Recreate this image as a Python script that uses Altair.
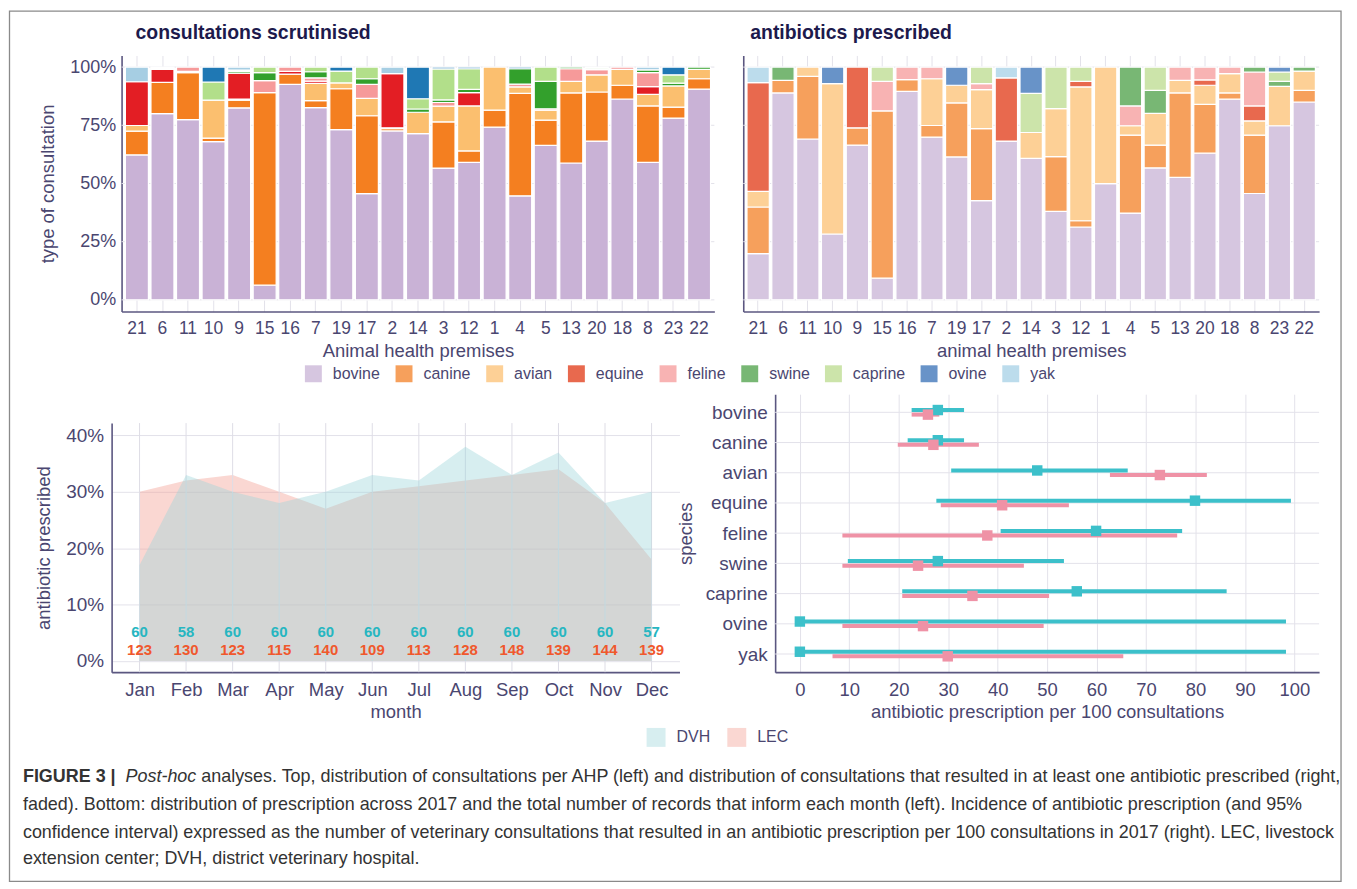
import altair as alt
import pandas as pd

FONT = "Liberation Sans"
TXT = "#4a4670"
AXIS = "#5b5780"
GRID = "#e3e2ea"
TITLE_C = "#1d1a4c"

premises = ["21", "6", "11", "10", "9", "15", "16", "7", "19", "17", "2", "14",
            "3", "12", "1", "4", "5", "13", "20", "18", "8", "23", "22"]
species = ["bovine", "canine", "avian", "equine", "feline", "swine", "caprine", "ovine", "yak"]

# consultations scrutinised (% of consultations per premises)
cons_bovine = [62.3, 80, 77.4, 68, 82.5, 6.3, 92.6, 82.6, 73.1, 45.6, 72.6, 71.4, 56.6, 59.1, 74.2, 44.7, 66.4, 58.8, 68.2, 86.3, 59.1, 78.1, 90.5]
cons_canine = [10.2, 13.4, 20.2, 1.5, 3.3, 82.7, 4.4, 3, 17.6, 33.5, 1, 0, 19.9, 4.9, 7.3, 44, 10.8, 30.1, 21.1, 5.9, 24.2, 4.7, 4.5]
cons_avian = [2.4, 0, 0.6, 16.3, 0.5, 0, 0, 7.4, 2.5, 7.5, 0.3, 9.2, 6.7, 19.3, 18.5, 2.8, 4.3, 5, 7.4, 6.8, 5, 9.1, 4]
cons_equine = [18.8, 5.6, 0, 0, 11.1, 0, 1.2, 1, 0, 0, 23.3, 0, 0, 5.7, 0, 0, 0, 0, 0, 0, 3.3, 0, 0]
cons_feline = [0, 0, 1.8, 0, 0, 5.2, 1.8, 1.4, 0, 6, 0, 0, 1.6, 0, 0, 1.2, 0.6, 5.4, 2.2, 1, 6, 0, 0]
cons_swine = [0, 0.6, 0, 0, 0.8, 3.4, 0, 2.6, 0, 2.4, 0, 1.4, 1.1, 1.4, 0, 6.6, 11.8, 0.7, 0.6, 0, 1.2, 1.2, 1]
cons_caprine = [0, 0.4, 0, 7.8, 0.5, 2.4, 0, 2, 5.1, 5, 0, 4.4, 13.3, 8.9, 0, 0, 6.1, 0, 0.5, 0, 0, 3.6, 0]
cons_ovine = [0, 0, 0, 6.4, 0, 0, 0, 0, 1.7, 0, 0, 13.6, 0.8, 0.7, 0, 0.7, 0, 0, 0, 0, 0, 3.3, 0]
cons_yak = [6.3, 0, 0, 0, 1.3, 0, 0, 0, 0, 0, 2.8, 0, 0, 0, 0, 0, 0, 0, 0, 0, 1.2, 0, 0]

# antibiotics prescribed (% of consultations with antibiotic)
abx_bovine = [19.9, 88.9, 69.1, 28.3, 66.5, 9.3, 89.6, 69.9, 61.4, 42.6, 68.2, 60.8, 38, 31.3, 49.9, 37.3, 56.7, 52.6, 63, 86.2, 45.7, 74.8, 85]
abx_canine = [20, 5.4, 26.9, 0, 7.4, 71.9, 5, 5, 23.2, 31, 0, 0, 23.5, 2.7, 0, 33.5, 9.8, 36.3, 21, 2.7, 25.1, 0, 5]
abx_avian = [6.7, 0, 4, 64.6, 0, 0, 0, 20.1, 7.6, 16.7, 0, 11.1, 20.7, 57.5, 50.1, 4, 13.6, 5.4, 8.2, 8.3, 6.1, 16.9, 8.3]
abx_equine = [46.7, 0, 0, 0, 26.1, 0, 0, 0, 0, 0, 27.2, 0, 0, 2.4, 0, 0, 0, 0, 2.3, 0, 6.4, 0, 0]
abx_feline = [0, 0, 0, 0, 0, 12.7, 5.4, 5, 0, 2.6, 0, 0, 0, 0, 0, 8.5, 0, 5.7, 5.5, 2.8, 14.6, 0, 0]
abx_swine = [0, 5.7, 0, 0, 0, 0, 0, 0, 0, 0, 0, 0, 0, 0, 0, 16.7, 9.9, 0, 0, 0, 2.1, 2.2, 1.7]
abx_caprine = [0, 0, 0, 0, 0, 6.1, 0, 0, 0, 7.1, 0, 16.8, 17.8, 6.1, 0, 0, 10, 0, 0, 0, 0, 4, 0]
abx_ovine = [0, 0, 0, 7.1, 0, 0, 0, 0, 7.8, 0, 0, 11.3, 0, 0, 0, 0, 0, 0, 0, 0, 0, 2.1, 0]
abx_yak = [6.7, 0, 0, 0, 0, 0, 0, 0, 0, 0, 4.6, 0, 0, 0, 0, 0, 0, 0, 0, 0, 0, 0, 0]

# monthly prescription
months = ["Jan", "Feb", "Mar", "Apr", "May", "Jun", "Jul", "Aug", "Sep", "Oct", "Nov", "Dec"]
dvh_pct = [17, 33, 30, 28, 30, 33, 32, 38, 33, 37, 28, 30]
lec_pct = [30, 32, 33, 30, 27, 30, 31, 32, 33, 34, 28, 18]
dvh_n = [60, 58, 60, 60, 60, 60, 60, 60, 60, 60, 60, 57]
lec_n = [123, 130, 123, 115, 140, 109, 113, 128, 148, 139, 144, 139]

# incidence per 100 consultations (95% CI)
dvh_est = [27.9, 27.9, 48, 79.9, 59.9, 27.9, 56, 0, 0]
dvh_lo = [22.6, 21.8, 30.6, 27.6, 40.6, 9.7, 20.7, 0, 0]
dvh_hi = [33.2, 33.2, 66.3, 99.3, 77.3, 53.4, 86.3, 98.3, 98.3]
lec_est = [25.9, 27, 72.8, 40.9, 37.9, 23.9, 34.9, 24.9, 29.9]
lec_lo = [22.6, 19.8, 62.7, 28.5, 8.6, 8.6, 20.7, 8.6, 6.6]
lec_hi = [28.2, 36.2, 82.3, 54.4, 76.3, 45.3, 50.4, 49.3, 65.4]

# tick values
pct_ticks = [0, 0.25, 0.5, 0.75, 1]
month_ticks = [0, 10, 20, 30, 40]

# palettes
cons_colors = ["#c9b2d6", "#f47f20", "#fbbf6f", "#e31e24", "#f69a9a", "#33a02c", "#b2df8a", "#1f78b4", "#a6cee3"]
abx_colors = ["#d6c6e0", "#f6a05c", "#fdd096", "#e8694e", "#f8b3b3", "#78b774", "#cce4aa", "#6893c8", "#bcdcec"]


def long_df(cols):
    rows = []
    for si, (sp, vals) in enumerate(zip(species, cols)):
        for p, v in zip(premises, vals):
            if v > 0:
                rows.append({"premise": p, "species": sp, "ord": si, "value": v})
    return pd.DataFrame(rows)


cons_df = long_df([cons_bovine, cons_canine, cons_avian, cons_equine, cons_feline,
                   cons_swine, cons_caprine, cons_ovine, cons_yak])
abx_df = long_df([abx_bovine, abx_canine, abx_avian, abx_equine, abx_feline,
                  abx_swine, abx_caprine, abx_ovine, abx_yak])
pct_grid_df = pd.DataFrame({"g": pct_ticks})

# grid cells: column 0 starts at the bottom-left panel's left edge; inner offsets via scale ranges
TL_OFF, TL_W = 10, 595      # top-left plot: 10 px in, 595 wide
TR_OFF, TR_W = 29, 578      # top-right plot inside column 1
BR_OFF, BR_W = 61, 546      # bottom-right plot inside column 1
COL1_W = 607
TOP_H = 257
BOT_H = 279
BL_TOP = 29                 # bottom-left plot starts 29 px below row top
BL_W = 570


def bar_panel(df, colors, off, w, cell_w, title, dx, xtitle, yaxis, ytitle, legend):
    xenc = alt.X("premise:N", sort=premises, title=xtitle,
                 scale=alt.Scale(paddingInner=0.1, paddingOuter=0.15, range=[off, off + w]),
                 axis=alt.Axis(labelAngle=0, ticks=False, grid=True, bandPosition=0.5,
                               labelPadding=8, titlePadding=5, labelFontSize=17.5,
                               titleFontSize=18.5))
    yscale = alt.Scale(domain=[-0.05, 1.05], nice=False)
    grid = alt.Chart(pct_grid_df).mark_rule(color=GRID, strokeWidth=1).encode(
        y=alt.Y("g:Q", scale=yscale, title=ytitle, axis=yaxis),
        x=alt.value(off), x2=alt.value(off + w))
    bars = alt.Chart(df).mark_bar(stroke="white", strokeWidth=1.2).encode(
        x=xenc,
        y=alt.Y("value:Q", stack="normalize", scale=yscale, title=ytitle, axis=yaxis),
        color=alt.Color("species:N", scale=alt.Scale(domain=species, range=colors), legend=legend),
        order=alt.Order("ord:Q", sort="ascending"),
    )
    return alt.layer(grid, bars).properties(
        width=cell_w, height=TOP_H,
        title=alt.Title(title, anchor="start", frame="group", dx=dx, fontSize=19.5,
                        fontWeight="bold", color=TITLE_C, font=FONT, offset=12))


yaxis_left = alt.Axis(values=pct_ticks, format=".0%", ticks=False, grid=False,
                      offset=-TL_OFF, labelPadding=6, titlePadding=12,
                      labelFontSize=18, titleFontSize=18.5)
yaxis_right = alt.Axis(values=pct_ticks, labels=False, ticks=False, grid=False, offset=-TR_OFF)

species_legend = alt.Legend(orient="none", legendX=-411, legendY=311, direction="horizontal",
                            columns=9, title=None, symbolType="square", symbolSize=289,
                            symbolStrokeWidth=0, symbolOpacity=1, labelFontSize=16,
                            columnPadding=15, labelOffset=11)

top_left = bar_panel(cons_df, cons_colors, TL_OFF, TL_W, TL_OFF + TL_W, "consultations scrutinised",
                     24, "Animal health premises", yaxis_left, "type of consultation", None)
top_right = bar_panel(abx_df, abx_colors, TR_OFF, TR_W, COL1_W, "antibiotics prescribed", 36,
                      "animal health premises", yaxis_right, "", species_legend)

# ---- bottom left: monthly areas
dvh_df = pd.DataFrame({"month": months, "pct": dvh_pct, "n": dvh_n, "group": "DVH"})
lec_df = pd.DataFrame({"month": months, "pct": lec_pct, "n": lec_n, "group": "LEC"})
month_df = pd.DataFrame({"month": months})

YT_BL = "antibiotic prescribed"
xm = alt.X("month:N", sort=months, title="month",
           scale=alt.Scale(type="point", padding=0.6),
           axis=alt.Axis(labelAngle=0, ticks=False, grid=False, labelPadding=8, titlePadding=4,
                         labelFontSize=18.5, titleFontSize=18.5))
ym_scale = alt.Scale(domain=[-2, 42.2], nice=False, range=[BOT_H, BL_TOP])
ym_axis = alt.Axis(values=month_ticks, labelExpr="datum.value + '%'", ticks=False,
                   grid=True, labelPadding=8, titlePadding=12, labelFontSize=19,
                   titleFontSize=18.5)
ym = alt.Y("pct:Q", title=YT_BL, scale=ym_scale, axis=ym_axis)
area_color = alt.Color("group:N", scale=alt.Scale(domain=["DVH", "LEC"], range=["#9bd4d9", "#f29b8e"]),
                       legend=alt.Legend(orient="none", legendX=537, legendY=335, direction="horizontal",
                                         title=None, symbolType="square", symbolSize=361,
                                         symbolOpacity=0.4, symbolStrokeWidth=0, labelFontSize=16,
                                         columnPadding=17, labelOffset=11))

# vertical month gridlines limited to the plot's own height
vgrid = alt.Chart(month_df).mark_rule(color="#dedde6", strokeWidth=1).encode(
    x=xm, y=alt.value(BL_TOP), y2=alt.value(BOT_H))
lec_area = alt.Chart(lec_df).mark_area(opacity=0.4).encode(x=xm, y=ym, y2=alt.datum(0), color=area_color)
dvh_area = alt.Chart(dvh_df).mark_area(opacity=0.4).encode(x=xm, y=ym, y2=alt.datum(0), color=area_color)
dvh_txt = alt.Chart(dvh_df).mark_text(fontWeight="bold", fontSize=15, font=FONT, color="#26b6c1").encode(
    x=xm, y=alt.YDatum(5.1, title=YT_BL), text="n:Q")
lec_txt = alt.Chart(lec_df).mark_text(fontWeight="bold", fontSize=15, font=FONT, color="#f0582c").encode(
    x=xm, y=alt.YDatum(1.9, title=YT_BL), text="n:Q")

bottom_left = alt.layer(lec_area, vgrid, dvh_area, dvh_txt, lec_txt).properties(width=BL_W, height=BOT_H)

# ---- bottom right: forest plot
f_dvh = pd.DataFrame({"species": species, "est": dvh_est, "lo": dvh_lo, "hi": dvh_hi})
f_lec = pd.DataFrame({"species": species, "est": lec_est, "lo": lec_lo, "hi": lec_hi})
sp_df = pd.DataFrame({"species": species})
XT = "antibiotic prescription per 100 consultations"
xaxis_f = alt.Axis(values=list(range(0, 101, 10)), ticks=False, grid=True, labelPadding=8,
                   titlePadding=4, labelFontSize=18.5, titleFontSize=18.5)
xs = alt.Scale(domain=[-5, 105], nice=False, range=[BR_OFF, BR_OFF + BR_W])
yf = alt.Y("species:N", sort=species, title="species",
           scale=alt.Scale(type="point", padding=0.6),
           axis=alt.Axis(ticks=False, grid=False, offset=-BR_OFF, labelPadding=8, titlePadding=10,
                         labelFontSize=19, titleFontSize=18.5))

DVH_C = "#3cc0ca"
LEC_C = "#ef92a6"
hgrid = alt.Chart(sp_df).mark_rule(color=GRID, strokeWidth=1).encode(
    y=yf, x=alt.XDatum(-5, title=XT, scale=xs, axis=xaxis_f), x2=alt.X2Datum(105))
r_dvh = alt.Chart(f_dvh).mark_rule(strokeWidth=4, yOffset=-2.3, color=DVH_C).encode(
    x=alt.X("lo:Q", title=XT, scale=xs, axis=xaxis_f), x2="hi:Q", y=yf)
r_lec = alt.Chart(f_lec).mark_rule(strokeWidth=4, yOffset=2.3, color=LEC_C).encode(
    x=alt.X("lo:Q", title=XT, scale=xs, axis=xaxis_f), x2="hi:Q", y=yf)
s_dvh = alt.Chart(f_dvh).mark_square(size=110, yOffset=-2.3, color=DVH_C, opacity=1).encode(
    x=alt.X("est:Q", title=XT, scale=xs, axis=xaxis_f), y=yf)
s_lec = alt.Chart(f_lec).mark_square(size=110, yOffset=2.3, color=LEC_C, opacity=1).encode(
    x=alt.X("est:Q", title=XT, scale=xs, axis=xaxis_f), y=yf)

bottom_right = alt.layer(hgrid, r_dvh, r_lec, s_dvh, s_lec).properties(width=COL1_W, height=BOT_H)

# ---- caption + frame (caption cell origin: x=111, y=755 on the page)
cap_base = alt.Chart(pd.DataFrame({"s": [0]}))
CAP = 18
CAP_C = "#333333"
line1 = ("analyses. Top, distribution of consultations per AHP (left) and distribution of "
         "consultations that resulted in at least one antibiotic prescribed (right,")
line2 = ("faded). Bottom: distribution of prescription across 2017 and the total number of records "
         "that inform each month (left). Incidence of antibiotic prescription (and 95%")
line3 = ("confidence interval) expressed as the number of veterinary consultations that resulted in "
         "an antibiotic prescription per 100 consultations in 2017 (right). LEC, livestock")
line4 = "extension center; DVH, district veterinary hospital."


def cap_text(t, x, y, weight="normal", style="normal"):
    return cap_base.mark_text(text=t, align="left", baseline="middle", font=FONT, fontSize=CAP,
                              fontWeight=weight, fontStyle=style, color=CAP_C).encode(
        x=alt.value(x), y=alt.value(y))


frame = cap_base.mark_rect(fillOpacity=0, stroke="#8a8a8a", strokeWidth=1.3).encode(
    x=alt.value(-102.5), x2=alt.value(1234), y=alt.value(-746.5), y2=alt.value(127))

caption = alt.layer(
    frame,
    cap_text("FIGURE 3 |", -89, 22, weight="bold"),
    cap_text("Post-hoc", 14, 22, style="italic"),
    cap_text(line1, 90, 22),
    cap_text(line2, -89, 50),
    cap_text(line3, -89, 78),
    cap_text(line4, -89, 105),
).properties(width=1, height=120)

chart = alt.concat(
    top_left, top_right, bottom_left, bottom_right, caption,
    columns=2, spacing={"row": 83, "column": 0}, bounds="flush"
).resolve_scale(color="independent").properties(
    padding={"left": 0, "top": 0, "right": 5, "bottom": 0}, background="white"
).configure_view(stroke="transparent").configure_axis(
    labelFont=FONT, titleFont=FONT, labelColor=TXT, titleColor=TXT, titleFontWeight="normal",
    domainColor=AXIS, domainWidth=1.6, gridColor=GRID, gridWidth=1
).configure_legend(labelFont=FONT, labelColor=TXT)

chart.save("out.html", embed_options={"renderer": "svg", "actions": False})
